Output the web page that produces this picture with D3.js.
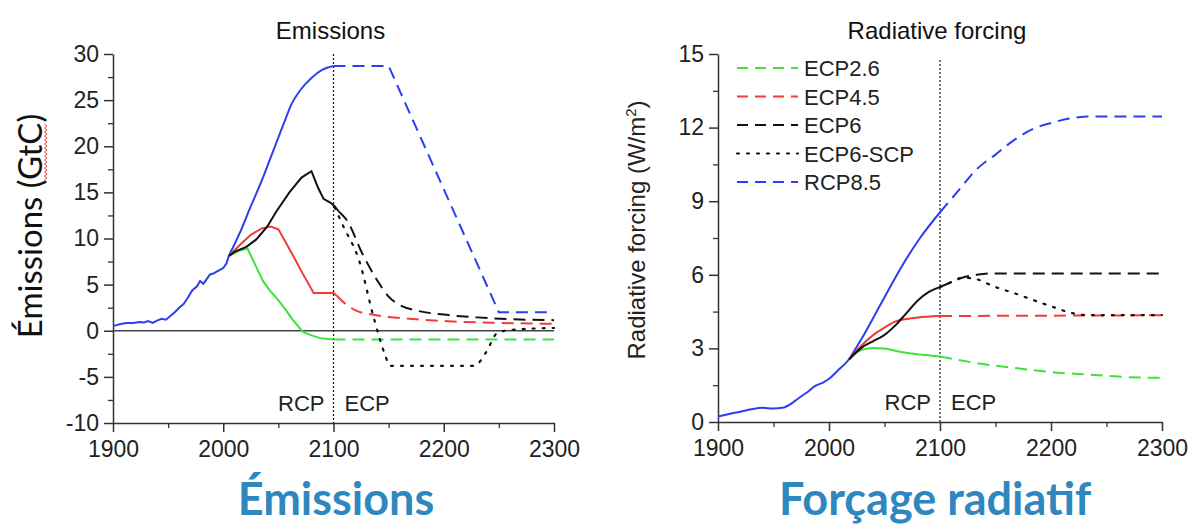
<!DOCTYPE html>
<html>
<head>
<meta charset="utf-8">
<script src="https://cdn.jsdelivr.net/npm/d3@7"></script>
<style>
  body { margin: 0; background: #fff; }
  svg { display: block; }
  .tick text { font-family: "Liberation Sans", Arial, sans-serif; fill: #222; }
</style>
</head>
<body>
<div class="chart"></div>
<script>
// --- emissions (GtC), [year, value]
const emHist = [[1900,0.5],[1906,0.7],[1912,0.85],[1918,0.85],[1924,0.95],[1928,0.9],[1932,1.05],[1936,0.85],[1940,1.1],[1944,1.3],[1948,1.2],[1952,1.6],[1956,2.0],[1960,2.5],[1964,2.9],[1968,3.6],[1972,4.4],[1976,4.8],[1979,5.4],[1982,5.1],[1985,5.6],[1988,6.1],[1991,6.2],[1994,6.4],[1997,6.6],[2000,6.8],[2003,7.3],[2005,8.1]];
const emRcp85 = [[2005,8.1],[2015,10.6],[2025,13.5],[2035,16.3],[2045,19.4],[2055,22.5],[2062,24.6],[2070,26.1],[2080,27.4],[2090,28.3],[2100,28.7]];
const emEcp85 = [[2100,28.7],[2150,28.7],[2250,2.0],[2300,2.0]];
const emRcp6 = [[2005,8.1],[2011,8.6],[2021,9.1],[2030,9.9],[2040,11.3],[2048,12.9],[2060,15.0],[2071,16.6],[2080,17.3],[2086,15.5],[2091,14.3],[2097,13.9],[2101,13.5],[2105,12.9]];
const emEcp6 = [[2105,12.9],[2112,12.0],[2126,8.4],[2140,5.4],[2150,3.7],[2160,2.8],[2175,2.2],[2200,1.75],[2230,1.45],[2260,1.25],[2300,1.15]];
const emScp = [[2101,13.4],[2109,11.3],[2123,7.7],[2137,1.2],[2147,-2.7],[2151,-3.8],[2228,-3.8],[2238,-2.4],[2249,-0.2],[2262,0.1],[2300,0.3]];
const emRcp45 = [[2005,8.1],[2015,9.3],[2025,10.4],[2035,11.1],[2043,11.3],[2050,11.0],[2057,9.5],[2064,8.0],[2073,6.0],[2082,4.1],[2100,4.1],[2103,3.8]];
const emEcp45 = [[2103,3.8],[2110,3.0],[2120,2.2],[2135,1.75],[2150,1.5],[2175,1.25],[2200,1.05],[2250,0.85],[2300,0.75]];
const emRcp26 = [[2005,8.1],[2015,8.7],[2022,8.9],[2030,6.9],[2036,5.4],[2042,4.4],[2051,3.15],[2057,2.2],[2063,1.2],[2072,-0.1],[2080,-0.5],[2088,-0.8],[2100,-0.95]];
const emEcp26 = [[2100,-0.95],[2300,-0.95]];

// --- radiative forcing (W/m2)
const rfHist = [[1900,0.23],[1910,0.33],[1920,0.42],[1930,0.52],[1940,0.58],[1950,0.55],[1958,0.58],[1965,0.72],[1972,0.95],[1980,1.2],[1988,1.48],[1995,1.62],[2001,1.79],[2008,2.1],[2015,2.4],[2018,2.55]];
const rfRcp85 = [[2018,2.55],[2032,3.6],[2049,5.0],[2065,6.3],[2082,7.5],[2100,8.55]];
const rfEcp85 = [[2100,8.55],[2116,9.4],[2133,10.3],[2150,10.9],[2167,11.5],[2184,11.95],[2201,12.2],[2218,12.38],[2235,12.45],[2300,12.45]];
const rfRcp6 = [[2018,2.55],[2030,3.05],[2040,3.3],[2050,3.55],[2060,3.95],[2070,4.45],[2080,4.95],[2090,5.3],[2100,5.5]];
const rfEcp6 = [[2100,5.5],[2110,5.7],[2120,5.88],[2133,6.0],[2145,6.05],[2300,6.05]];
const rfScp = [[2100,5.5],[2110,5.7],[2120,5.88],[2130,5.85],[2150,5.5],[2167,5.25],[2184,4.97],[2201,4.7],[2218,4.45],[2232,4.36],[2300,4.36]];
const rfRcp45 = [[2018,2.55],[2030,3.15],[2040,3.55],[2050,3.85],[2060,4.1],[2070,4.2],[2080,4.26],[2100,4.32]];
const rfEcp45 = [[2100,4.32],[2300,4.35]];
const rfRcp26 = [[2018,2.55],[2030,2.95],[2040,3.02],[2050,3.0],[2065,2.85],[2082,2.75],[2100,2.67]];
const rfEcp26 = [[2100,2.67],[2133,2.4],[2167,2.2],[2201,2.03],[2235,1.93],[2269,1.83],[2300,1.8]];

const xTicks = [1900, 2000, 2100, 2200, 2300];
const emTicks = [-10, -5, 0, 5, 10, 15, 20, 25, 30];
const rfTicks = [0, 3, 6, 9, 12, 15];
const legendNames = ['ECP2.6', 'ECP4.5', 'ECP6', 'ECP6-SCP', 'RCP8.5'];

const colors = { green: '#3de23d', red: '#f23a3a', black: '#111111', blue: '#2b3ff0' };
const DASH = '12,7', DOT = '2,8';

const width = 1192, height = 528;
const svg = d3.select('.chart').append('svg')
    .attr('width', width)
    .attr('height', height);

function drawPanel(p) {
    const x = d3.scaleLinear().domain([1900, 2300]).range([p.left, p.right]);
    const y = d3.scaleLinear().domain(p.yDomain).range([p.bottom, p.top]);
    const g = svg.append('g');

    // minor ticks
    g.append('g').attr('transform', `translate(0,${p.bottom})`)
        .call(d3.axisBottom(x).tickValues(d3.range(1950, 2300, 100)).tickSize(5).tickFormat(''))
        .call(a => a.select('.domain').remove())
        .call(a => a.selectAll('line').attr('stroke', '#333').attr('stroke-width', 1.3));
    g.append('g').attr('transform', `translate(${p.left},0)`)
        .call(d3.axisLeft(y).tickValues(p.yMinor).tickSize(5).tickFormat(''))
        .call(a => a.select('.domain').remove())
        .call(a => a.selectAll('line').attr('stroke', '#333').attr('stroke-width', 1.3));

    // main axes
    g.append('g').attr('transform', `translate(0,${p.bottom})`)
        .call(d3.axisBottom(x).tickValues(xTicks).tickSize(9).tickPadding(9).tickSizeOuter(0).tickFormat(d => String(d)))
        .call(a => a.selectAll('.tick text').style('font-size', '23px'))
        .call(a => a.selectAll('line, path').attr('stroke', '#333').attr('stroke-width', 1.5));
    g.append('g').attr('transform', `translate(${p.left},0)`)
        .call(d3.axisLeft(y).tickValues(p.yTicks).tickSize(9).tickPadding(5).tickSizeOuter(0).tickFormat(d => String(d)))
        .call(a => a.selectAll('.tick text').style('font-size', '23px'))
        .call(a => a.selectAll('line, path').attr('stroke', '#333').attr('stroke-width', 1.5));

    if (p.zeroLine) {
        g.append('line')
            .attr('x1', p.left).attr('x2', p.right)
            .attr('y1', y(0)).attr('y2', y(0))
            .attr('stroke', '#444').attr('stroke-width', 1.6);
    }

    // RCP / ECP divider
    g.append('line')
        .attr('x1', x(2100)).attr('x2', x(2100))
        .attr('y1', p.top + p.divTop).attr('y2', p.bottom)
        .attr('stroke', '#111').attr('stroke-width', 1.2)
        .attr('stroke-dasharray', '2,2');
    g.append('text').attr('x', x(2100) - 9).attr('y', p.bottom - 12)
        .attr('text-anchor', 'end').attr('font-family', 'Liberation Sans, Arial, sans-serif')
        .attr('font-size', 22).attr('fill', '#222').text('RCP');
    g.append('text').attr('x', x(2100) + 11).attr('y', p.bottom - 12)
        .attr('font-family', 'Liberation Sans, Arial, sans-serif')
        .attr('font-size', 22).attr('fill', '#222').text('ECP');

    // title
    g.append('text').attr('x', (p.left + p.right) / 2 - 3).attr('y', 39)
        .attr('text-anchor', 'middle').attr('font-family', 'Liberation Sans, Arial, sans-serif')
        .attr('font-size', 24).attr('fill', '#111').text(p.title);

    const line = d3.line().x(d => x(d[0])).y(d => y(d[1]));
    p.series.forEach(s => {
        g.append('path')
            .attr('d', line.curve(s.curve || d3.curveMonotoneX)(s.data))
            .attr('fill', 'none')
            .attr('stroke', s.color)
            .attr('stroke-width', s.dash === DOT ? 2.2 : 2)
            .attr('stroke-linecap', s.dash === DOT ? 'round' : 'butt')
            .attr('stroke-dasharray', s.dash || null);
    });
    return { x, y, g };
}

drawPanel({
    left: 113, right: 554, top: 54, bottom: 423,
    yDomain: [-10, 30], yTicks: emTicks, yMinor: d3.range(-7.5, 30, 5),
    zeroLine: true, divTop: 0, title: 'Emissions',
    series: [
        { data: emRcp85, color: colors.blue },
        { data: emEcp85, color: colors.blue, dash: DASH, curve: d3.curveLinear },
        { data: emEcp26, color: colors.green, dash: DASH },
        { data: emRcp26, color: colors.green, curve: d3.curveLinear },
        { data: emEcp45, color: colors.red, dash: DASH },
        { data: emRcp45, color: colors.red, curve: d3.curveLinear },
        { data: emScp, color: colors.black, dash: DOT },
        { data: emEcp6, color: colors.black, dash: DASH },
        { data: emRcp6, color: colors.black, curve: d3.curveLinear },
        { data: emHist, color: colors.blue, curve: d3.curveLinear }
    ]
});

const rf = drawPanel({
    left: 718, right: 1162, top: 54, bottom: 422,
    yDomain: [0, 15], yTicks: rfTicks, yMinor: d3.range(1.5, 15, 3),
    zeroLine: false, divTop: 6, title: 'Radiative forcing',
    series: [
        { data: rfRcp85, color: colors.blue },
        { data: rfEcp85, color: colors.blue, dash: DASH },
        { data: rfEcp26, color: colors.green, dash: DASH },
        { data: rfRcp26, color: colors.green },
        { data: rfEcp45, color: colors.red, dash: DASH },
        { data: rfRcp45, color: colors.red },
        { data: rfScp, color: colors.black, dash: DOT },
        { data: rfEcp6, color: colors.black, dash: DASH },
        { data: rfRcp6, color: colors.black },
        { data: rfHist, color: colors.blue }
    ]
});

// legend (right panel)
const legendColors = [colors.green, colors.red, colors.black, colors.black, colors.blue];
const legendDash = ['11,7', '11,7', '11,7', '2,8', '11,7'];
const legend = rf.g.append('g').attr('font-family', 'Liberation Sans, Arial, sans-serif');
legendNames.forEach((name, i) => {
    const ly = 68 + i * 28.5;
    legend.append('line')
        .attr('x1', 737).attr('x2', 798).attr('y1', ly).attr('y2', ly)
        .attr('stroke', legendColors[i]).attr('stroke-width', 2.2)
        .attr('stroke-linecap', i === 3 ? 'round' : 'butt')
        .attr('stroke-dasharray', legendDash[i]);
    legend.append('text').attr('x', 804).attr('y', ly + 8)
        .attr('font-size', 22).attr('fill', '#222').text(name);
});

// y axis titles
const emTitle = svg.append('text')
    .attr('transform', 'translate(42,226) rotate(-90)')
    .attr('text-anchor', 'middle')
    .attr('font-family', 'Lato, "Open Sans", sans-serif')
    .attr('font-size', 33).attr('fill', '#111')
    .text('Émissions (GtC)');

// red wavy "spell check" mark under GtC
{
    const t = emTitle.node();
    const full = t.getComputedTextLength();
    const start = t.getSubStringLength(0, 11);
    const end = t.getSubStringLength(0, 14);
    const y0 = 226 + full / 2 - start;
    const y1 = 226 + full / 2 - end;
    const pts = [];
    for (let yy = y0, k = 0; yy >= y1; yy -= 2, k++) pts.push([k % 2 ? 47 : 44.5, yy]);
    svg.append('path').attr('d', d3.line()(pts))
        .attr('fill', 'none').attr('stroke', '#e8403a').attr('stroke-width', 1);
}

const rfTitle = svg.append('text')
    .attr('transform', 'translate(645,230) rotate(-90)')
    .attr('text-anchor', 'middle')
    .attr('font-family', 'Liberation Sans, Arial, sans-serif')
    .attr('font-size', 24).attr('fill', '#222');
rfTitle.append('tspan').text('Radiative forcing (W/m');
rfTitle.append('tspan').attr('dy', -9).attr('font-size', 15).text('2');
rfTitle.append('tspan').attr('dy', 9).text(')');

// big captions
svg.append('text').attr('x', 336).attr('y', 515)
    .attr('text-anchor', 'middle').attr('font-family', 'Lato, sans-serif')
    .attr('font-weight', 700).attr('font-size', 45).attr('fill', '#2f87bf')
    .text('Émissions');
svg.append('text').attr('x', 935).attr('y', 515)
    .attr('text-anchor', 'middle').attr('font-family', 'Lato, sans-serif')
    .attr('font-weight', 700).attr('font-size', 45).attr('fill', '#2f87bf')
    .text('Forçage radiatif');
</script>
</body>
</html>
